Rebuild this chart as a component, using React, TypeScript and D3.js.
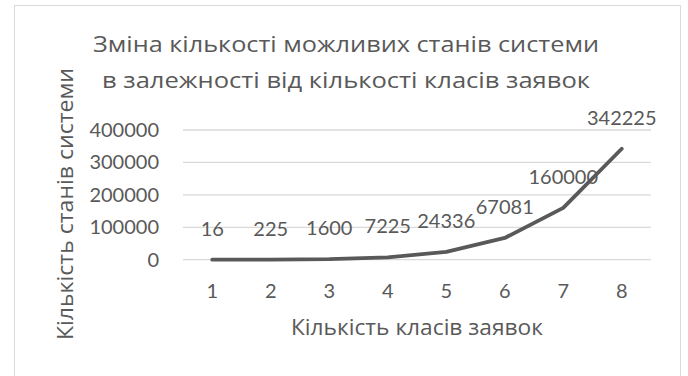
import React from "react";
import * as d3 from "d3";

const categories = ["1", "2", "3", "4", "5", "6", "7", "8"];
const values = [16, 225, 1600, 7225, 24336, 67081, 160000, 342225];
const yTicks = [0, 100000, 200000, 300000, 400000];
const titleLines = [
  "Зміна кількості можливих станів системи",
  "в залежності від кількості класів заявок",
];
const titleWidths = [506, 488];
const xAxisTitle = "Кількість класів заявок";
const yAxisTitle = "Кількість станів системи";

const W = 688;
const H = 376;
const NUM_FONT = "Lato, 'Open Sans', sans-serif";
const TXT_FONT = "'Open Sans', 'Noto Sans', sans-serif";
const TEXT = "#595959";
const GRID = "#d9d9d9";

export default function App() {
  const x = d3.scaleBand<string>().domain(categories).range([183, 651]);
  const y = d3.scaleLinear().domain([0, 400000]).range([259.7, 130]);
  const cx = (c: string) => (x(c) ?? 0) + x.bandwidth() / 2;

  const line = d3
    .line<number>()
    .x((_, i) => cx(categories[i]))
    .y((v) => y(v));

  return (
    <svg
      width={W}
      height={H}
      style={{ position: "absolute", left: 0, top: 0, background: "#fff" }}
      fontFamily={NUM_FONT}
    >
      <rect x={14.5} y={5.5} width={666} height={400} fill="#fff" stroke={GRID} strokeWidth={1} />

      {titleLines.map((t, i) => (
        <text
          key={i}
          x={346}
          y={51.7 + i * 36.6}
          textAnchor="middle"
          fontSize={22}
          fill={TEXT}
          fontFamily={TXT_FONT}
          textLength={titleWidths[i]}
          lengthAdjust="spacingAndGlyphs"
        >
          {t}
        </text>
      ))}

      {yTicks.map((t) => (
        <g key={t}>
          <line x1={183} x2={651} y1={y(t)} y2={y(t)} stroke={GRID} strokeWidth={1.3} />
          <text x={159} y={y(t) + 7} textAnchor="end" fontSize={20} fill={TEXT}>
            {t}
          </text>
        </g>
      ))}

      {categories.map((c) => (
        <text key={c} x={cx(c)} y={298} textAnchor="middle" fontSize={20} fill={TEXT}>
          {c}
        </text>
      ))}

      <path d={line(values) ?? ""} fill="none" stroke="#595959" strokeWidth={3.8} strokeLinejoin="round" strokeLinecap="round" />

      {values.map((v, i) => (
        <text key={i} x={cx(categories[i])} y={y(v) - 24} textAnchor="middle" fontSize={20} fill={TEXT}>
          {v}
        </text>
      ))}

      <text
        x={417}
        y={335}
        textAnchor="middle"
        fontSize={21}
        fill={TEXT}
        fontFamily={TXT_FONT}
        textLength={252}
        lengthAdjust="spacingAndGlyphs"
      >
        {xAxisTitle}
      </text>
      <text
        transform={`translate(73,204) rotate(-90)`}
        textAnchor="middle"
        fontSize={21}
        fill={TEXT}
        fontFamily={TXT_FONT}
        textLength={272}
        lengthAdjust="spacingAndGlyphs"
      >
        {yAxisTitle}
      </text>
    </svg>
  );
}
